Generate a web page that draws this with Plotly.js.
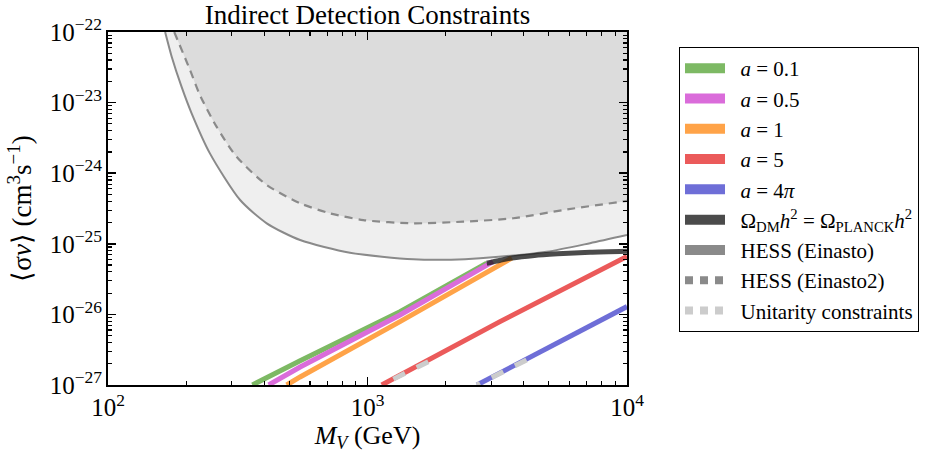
<!DOCTYPE html>
<html><head><meta charset="utf-8">
<script src="https://cdn.plot.ly/plotly-3.0.1.min.js"></script>
<style>html,body{margin:0;padding:0;background:#fff}#chart{width:934px;height:453px}</style>
</head><body><div id="chart"></div>
<script>
// Axis ranges (data units)
const X_MIN = 1e2, X_MAX = 1e4;
const Y_MIN = 1e-27, Y_MAX = 1e-22;

// Minor tick positions
const xMinorTicks = [200, 300, 400, 500, 600, 700, 800, 900, 2000, 3000, 4000, 5000, 6000, 7000, 8000, 9000];
const yMinorTicks = [];
[-27, -26, -25, -24, -23].forEach(function (e) { for (let k = 2; k <= 9; k++) yMinorTicks.push(k * Math.pow(10, e)); });

// HESS (Einasto) limit, solid
const hessMass = [166, 176, 192, 210, 247, 323, 409, 550, 856, 1502, 2100, 2713, 4905, 7202, 10000];
const hessSv   = [1e-22, 4.47e-23, 1.68e-23, 7.05e-24, 1.91e-24, 4.17e-25, 1.95e-25, 1.13e-25, 7.48e-26, 6.03e-26, 5.95e-26, 6.23e-26, 7.72e-26, 1.02e-25, 1.33e-25];

// HESS (Einasto2) limit, dashed
const hess2Mass = [180, 207, 226, 262, 313, 409, 550, 717, 963, 1502, 2339, 3646, 5683, 10000];
const hess2Sv   = [1e-22, 2.9e-23, 1.28e-23, 4.56e-24, 1.71e-24, 6.8e-25, 3.75e-25, 2.7e-25, 2.17e-25, 1.95e-25, 2.06e-25, 2.3e-25, 3.01e-25, 4.05e-25];

// Model curves
const massA01 = [360, 550, 1334, 2880];
const svA01   = [1e-27, 2.2e-27, 1.09e-26, 5.3e-26];
const massA05 = [416, 550, 1334, 3045];
const svA05   = [1e-27, 1.8e-27, 9.8e-27, 5.6e-26];
const massA1  = [488, 550, 1334, 3600];
const svA1    = [1e-27, 1.3e-27, 7.9e-27, 6.3e-26];
const massA5  = [1134, 3240, 10000];
const svA5    = [1e-27, 7.9e-27, 6.6e-26];
const massA4pi = [2640, 4624, 10000];
const svA4pi   = [1e-27, 2.9e-27, 1.29e-26];

// Relic abundance curve
const omegaMass = [2880, 3250, 3600, 4400, 5400, 7200, 10000];
const omegaSv   = [5.3e-26, 5.85e-26, 6.3e-26, 6.85e-26, 7.2e-26, 7.6e-26, 7.85e-26];

// Unitarity-violating segments
const unitA5Mass = [1715, 1134];
const unitA5Sv   = [2.14e-27, 1e-27];
const unitA4piMass = [4100, 2640];
const unitA4piSv   = [2.26e-27, 1e-27];

const legendNames = ['<i>a</i> = 0.1', '<i>a</i> = 0.5', '<i>a</i> = 1', '<i>a</i> = 5', '<i>a</i> = 4<i>π</i>',
  'Ω<sub>DM</sub><i>h</i><sup>2</sup> = Ω<sub>PLANCK</sub><i>h</i><sup>2</sup>',
  'HESS (Einasto)', 'HESS (Einasto2)', 'Unitarity constraints'];

const C = {
  g: '#7db964', m: '#da6cda', o: '#ffa348', r: '#eb5a5a', b: '#6e6ed7',
  k: 'rgba(30,30,30,0.8)', kLeg: '#4b4b4b', hess: '#8a8a8a', unit: '#cccccc',
  fillLight: '#efefef', fillDark: '#dcdcdc'
};
const FONT = 'Liberation Serif, Times New Roman, serif';

function line(x, y, color, width, shape) {
  return {x: x, y: y, type: 'scatter', mode: 'lines', showlegend: false, hoverinfo: 'skip',
    line: {color: color, width: width, shape: shape || 'linear', smoothing: 0.7}};
}

const traces = [];
// light region above HESS (Einasto)
traces.push({x: [hessMass[0], X_MAX], y: [Y_MAX, Y_MAX], type: 'scatter', mode: 'lines', line: {width: 0}, showlegend: false, hoverinfo: 'skip'});
const f1 = line(hessMass, hessSv, C.hess, 0, 'spline'); f1.fill = 'tonexty'; f1.fillcolor = C.fillLight; traces.push(f1);
// darker region above HESS (Einasto2)
traces.push({x: [hess2Mass[0], X_MAX], y: [Y_MAX, Y_MAX], type: 'scatter', mode: 'lines', line: {width: 0}, showlegend: false, hoverinfo: 'skip'});
const f2 = line(hess2Mass, hess2Sv, C.fillDark, 0, 'spline'); f2.fill = 'tonexty'; f2.fillcolor = C.fillDark; traces.push(f2);
traces.push(line(hessMass, hessSv, C.hess, 2, 'spline'));
const d2 = line(hess2Mass, hess2Sv, C.hess, 2.2, 'spline'); d2.line.dash = '8px,6px'; traces.push(d2);

traces.push(line(massA01, svA01, C.g, 5));
traces.push(line(massA05, svA05, C.m, 5));
traces.push(line(massA1, svA1, C.o, 5));
traces.push(line(massA5, svA5, C.r, 5));
traces.push(line(massA4pi, svA4pi, C.b, 5));
const u1 = line(unitA5Mass, unitA5Sv, C.unit, 5); u1.line.dash = '13px,13px'; traces.push(u1);
const u2 = line(unitA4piMass, unitA4piSv, C.unit, 5); u2.line.dash = '13px,13px'; traces.push(u2);
traces.push(line(omegaMass, omegaSv, C.k, 5, 'spline'));

// dummy trace carrying the minor-tick overlay axes
traces.push({x: [null], y: [null], xaxis: 'x2', yaxis: 'y2', type: 'scatter', mode: 'lines', showlegend: false, hoverinfo: 'skip'});

// legend entries
const legColors = [C.g, C.m, C.o, C.r, C.b, C.kLeg, C.hess, C.hess, C.unit];
legendNames.forEach(function (nm, i) {
  const t = {x: [null], y: [null], type: 'scatter', mode: 'lines', name: '\u2002' + nm, showlegend: true,
    legendgroup: 'g' + i, line: {color: legColors[i], width: 10}};
  if (i >= 7) { t.line.width = 8; t.line.dash = '8px,7px'; }
  traces.push(t);
});

const axisCommon = {
  type: 'log', showline: true, linewidth: 2, linecolor: 'black', mirror: 'ticks',
  ticks: 'inside', ticklen: 8, tickwidth: 1.6, tickcolor: 'black',
  showgrid: false, zeroline: false, layer: 'above traces'
};
const xRange = [Math.log10(X_MIN), Math.log10(X_MAX)];
const yRange = [Math.log10(Y_MIN), Math.log10(Y_MAX)];

const layout = {
  width: 934, height: 453,
  margin: {l: 108, r: 307, t: 32, b: 68},
  paper_bgcolor: 'white', plot_bgcolor: 'white',
  font: {family: FONT, color: 'black'},
  title: {text: 'Indirect Detection Constraints', font: {family: FONT, size: 27, color: 'black'},
    x: 0.5, xref: 'paper', xanchor: 'center', y: 1 - 15 / 453, yref: 'container', yanchor: 'middle'},
  xaxis: Object.assign({}, axisCommon, {range: xRange, dtick: 1, exponentformat: 'power',
    tickfont: {family: FONT, size: 20, color: 'black'},
    title: {text: '<i>M</i><sub><i>V</i></sub> (GeV)', font: {family: FONT, size: 26}, standoff: 4}}),
  yaxis: Object.assign({}, axisCommon, {range: yRange, dtick: 1, exponentformat: 'power',
    tickfont: {family: FONT, size: 20, color: 'black'},
    title: {text: '⟨σ<i>v</i>⟩ (cm<sup>3</sup>s<sup>−1</sup>)', font: {family: FONT, size: 27}, standoff: 10}}),
  xaxis2: Object.assign({}, axisCommon, {range: xRange, overlaying: 'x', anchor: 'y2', side: 'bottom',
    tickmode: 'array', tickvals: xMinorTicks, ticklen: 4, tickwidth: 1.2, showticklabels: false}),
  yaxis2: Object.assign({}, axisCommon, {range: yRange, overlaying: 'y', anchor: 'x2', side: 'left',
    tickmode: 'array', tickvals: yMinorTicks, ticklen: 4, tickwidth: 1.2, showticklabels: false}),
  legend: {x: 1.1002, y: 0.9575, xanchor: 'left', yanchor: 'top', bordercolor: 'black', borderwidth: 1,
    bgcolor: 'white', font: {family: FONT, size: 21, color: 'black'}, itemwidth: 40,
    traceorder: 'grouped', tracegroupgap: 0}
};

Plotly.newPlot('chart', traces, layout, {displayModeBar: false, staticPlot: true});
</script>
</body></html>
